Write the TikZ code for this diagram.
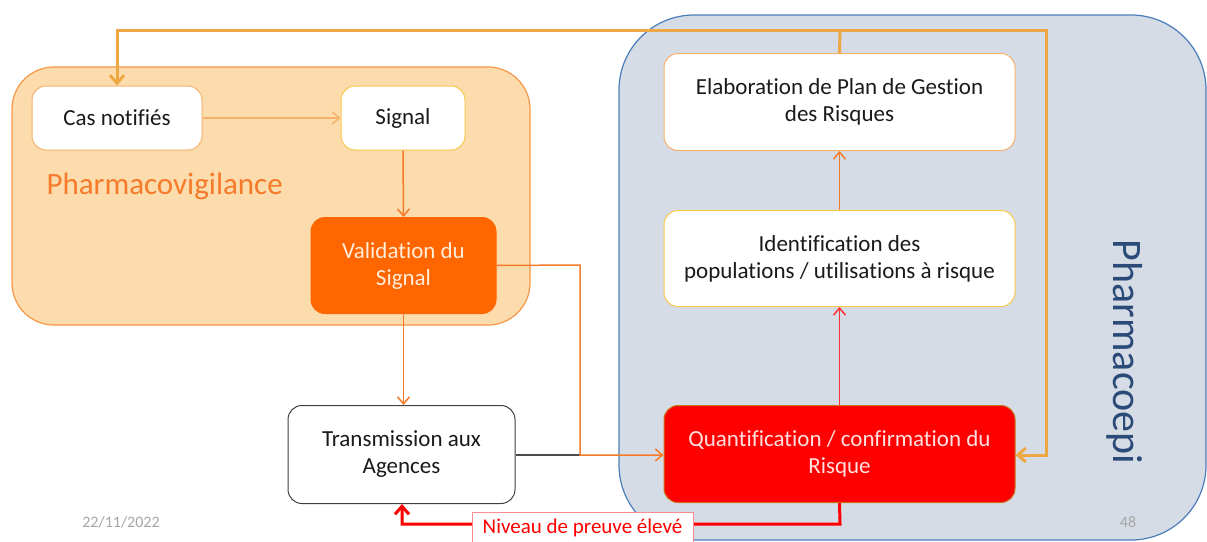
\documentclass[tikz,border=0pt]{standalone}
\usepackage{fontspec}
\setmainfont{Carlito}[Ligatures=NoCommon]
\usetikzlibrary{arrows.meta}
\definecolor{pvfill}{HTML}{FCDCAC}
\definecolor{pvborder}{HTML}{F79646}
\definecolor{pefill}{HTML}{D6DCE5}
\definecolor{peborder}{HTML}{4A7EBB}
\definecolor{gold}{HTML}{EEA843}
\definecolor{lorange}{HTML}{F6B26B}
\definecolor{yelbord}{HTML}{F9C84A}
\definecolor{valfill}{HTML}{FF6600}
\definecolor{oarrow}{HTML}{F57A2A}
\definecolor{quantbord}{HTML}{C8741A}
\definecolor{pecol}{HTML}{2A4A78}
\definecolor{greytxt}{HTML}{A6A6A6}
\definecolor{txt}{HTML}{1A1A1A}
\definecolor{nivbord}{HTML}{FF8C8C}
\tikzset{
  box/.style={draw, rounded corners=14pt, fill=white, line width=1pt, align=center, text=txt,
    inner sep=0pt, font=\fontsize{23}{27}\selectfont},
  conn/.style={line width=1.5pt, -{Straight Barb[length=7pt,width=12pt]}},
  thickconn/.style={line width=3pt, -{Straight Barb[length=8pt,width=14pt,line width=3pt]}},
}
\begin{document}
\begin{tikzpicture}[x=1pt,y=-1pt]
\useasboundingbox (0,0) rectangle (1207,541);
\fill[white] (0,0) rectangle (1207,541);
% group backgrounds
\begin{scope}
\clip (0,0) rectangle (1207,541);
\draw[fill=pefill, draw=peborder, line width=1.2pt, rounded corners=75pt] (619,15) rectangle (1206,540);
\end{scope}
\draw[fill=pvfill, draw=pvborder, line width=1.2pt, rounded corners=42pt] (12,67) rectangle (530,325);
\node[text=oarrow, font=\fontsize{31}{34}\selectfont, anchor=west] (pvlabel) at (43,186) {Pharmacovigilance};
\node[text=pecol, font=\fontsize{42}{46}\selectfont, rotate=-90] (pelabel) at (1125,352) {Pharmacoepi};
% nodes
\node[box, draw=lorange, minimum width=170pt, minimum height=64pt] (cas) at (117,118) {Cas notifiés};
\node[box, draw=yelbord, minimum width=124pt, minimum height=64pt] (sig) at (403,118) {Signal};
\node[box, draw=valfill, fill=valfill, text=white!85!orange, minimum width=185pt, minimum height=96pt] (val) at (403.5,265.5) {Validation du\\Signal};
\node[box, draw=black!75, minimum width=227pt, minimum height=98pt] (trans) at (401.5,454.5) {Transmission aux\\Agences};
\node[box, draw=lorange, minimum width=351pt, minimum height=97pt] (elab) at (839.5,102) {Elaboration de Plan de Gestion\\des Risques};
\node[box, draw=yelbord, minimum width=351pt, minimum height=96pt] (ident) at (839.5,258.5) {Identification des\\populations / utilisations à risque};
\node[box, draw=quantbord, fill=red, text=white!88!red, minimum width=351pt, minimum height=97pt] (quant) at (839.5,454) {Quantification / confirmation du\\Risque};
% footer
\node[text=greytxt, font=\fontsize{16}{19}\selectfont] (date) at (121,522) {22/11/2022};
\node[text=greytxt, font=\fontsize{16}{19}\selectfont] (page) at (1128,522) {48};
% connectors
\draw[conn, draw=lorange] (cas.east) -- (sig.west);
\draw[conn, draw=oarrow] (sig.south) -- (val.north);
\draw[conn, draw=oarrow] (val.south) -- (trans.north -| val.south);
\coordinate (jn) at (580,455);
\draw[line width=1.5pt, draw=black!70] (trans.east |- jn) -- (jn);
\draw[conn, draw=oarrow] (val.east) -- (580,265) -- (jn) -- (quant.west |- jn);
\draw[conn, draw=red!80] (quant.north) -- (ident.south);
\draw[conn, draw=oarrow] (ident.north) -- (elab.south);
\coordinate (topj) at (840,30);
\draw[line width=3pt, draw=gold] (elab.north) -- (topj);
\draw[thickconn, draw=gold] (topj) -- (117,30) -- (cas.north);
\draw[thickconn, draw=gold] (topj) -- (1046,30) -- (1046,455) -- (quant.east |- 0,455);
\draw[thickconn, draw=red] (quant.south) -- (840,524) -- (402,524) -- (trans.south -| 402,0);
\node[draw=nivbord, fill=white, line width=1pt, text=red, font=\fontsize{21}{24}\selectfont,
  minimum width=221pt, minimum height=32pt, inner sep=0pt] (niv) at (582.5,528) {Niveau de preuve élevé};
\end{tikzpicture}
\end{document}
